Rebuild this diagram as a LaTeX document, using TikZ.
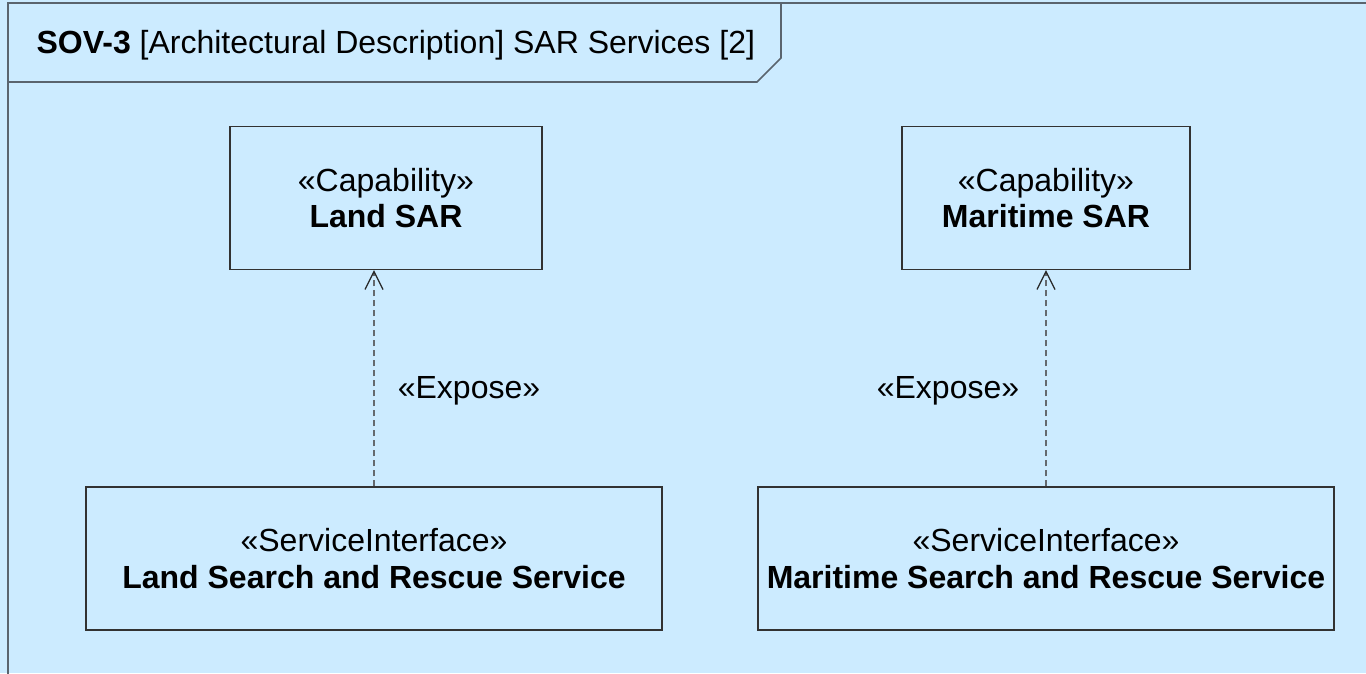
\documentclass[tikz,border=0pt]{standalone}
\usepackage{fontspec}
\setmainfont{Liberation Sans}
\usetikzlibrary{arrows.meta}

\definecolor{diagbg}{RGB}{204,235,255}
\definecolor{framegray}{RGB}{90,100,110}
\definecolor{boxline}{RGB}{50,50,50}
\definecolor{dashgray}{RGB}{100,105,110}

\tikzset{
	umlbox/.style={draw=boxline, line width=1.3pt, fill=diagbg, align=center,
		font=\fontsize{32}{36.5}\selectfont},
	exposeline/.style={dashgray, line width=1.4pt, dash pattern=on 6pt off 4pt,
		-{Straight Barb[length=18pt,width=18pt,color=black!85,line width=1.2pt]}},
	stereo/.style={font=\fontsize{32}{36.5}\selectfont}
}

\begin{document}
\begin{tikzpicture}[x=1pt,y=-1pt]
	\useasboundingbox (0,0) rectangle (1366,673);
	\clip (0,0) rectangle (1366,673);
	\fill[diagbg] (0,0) rectangle (1366,673);

%% Frame and title tab
	\draw[framegray, line width=2pt] (8,680) -- (8,3) -- (1380,3);
	\draw[framegray, line width=1.6pt] (8,82) -- (757,82) -- (781,58) -- (781,3);
	\draw (33,45) node[anchor=west, stereo] (title){\textbf{SOV-3} [Architectural Description] SAR Services [2]};

%% Capabilities
	\draw (386,198) node[umlbox, minimum width=312pt, minimum height=143pt] (landsar){«Capability»\\\textbf{Land SAR}};
	\draw (1046,198) node[umlbox, minimum width=288pt, minimum height=143pt] (marsar){«Capability»\\\textbf{Maritime SAR}};

%% Service interfaces
	\draw (374,558.5) node[umlbox, minimum width=576pt, minimum height=143pt] (landsvc){«ServiceInterface»\\\textbf{Land Search and Rescue Service}};
	\draw (1046,558.5) node[umlbox, minimum width=576pt, minimum height=143pt] (marsvc){«ServiceInterface»\\\textbf{Maritime Search and Rescue Service}};

%% Expose labels
	\draw (469,391) node[stereo] (exposeland){«Expose»};
	\draw (948,391) node[stereo] (exposemar){«Expose»};

	% Lines
	\draw[exposeline] (landsvc.north) -- (landsvc.north |- landsar.south);
	\draw[exposeline] (marsvc.north) -- (marsar.south);
\end{tikzpicture}
\end{document}
